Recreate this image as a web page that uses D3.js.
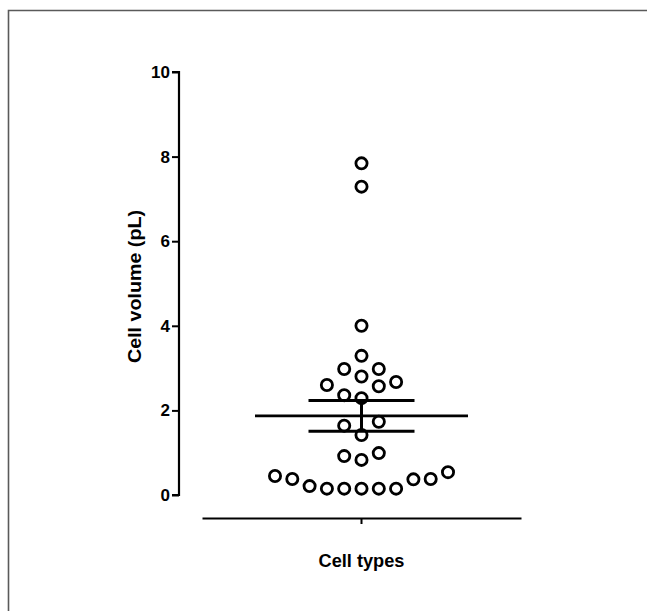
<!DOCTYPE html>
<html>
<head>
<meta charset="utf-8">
<script src="https://cdn.jsdelivr.net/npm/d3@7"></script>
<style>
    body { margin: 0; background: #fff; }
    svg text { font-family: "Liberation Sans", Arial, sans-serif; font-weight: bold; fill: #000; }
</style>
</head>
<body>
<div class="svg"></div>
<script>
// values (pL)
var categories = [""];
var cellVolumes = [
    7.84, 7.29, 4.00, 3.29, 2.98, 2.98, 2.80, 2.67, 2.60, 2.57, 2.36, 2.29,
    1.73, 1.64, 1.42, 0.99, 0.92, 0.83, 0.54, 0.45, 0.38, 0.38, 0.37, 0.21,
    0.15, 0.15, 0.15, 0.15, 0.15
];
var yTicks = [0, 2, 4, 6, 8, 10];
var yTitle = "Cell volume (pL)";
var xTitle = "Cell types";

var width, height, margin;
var x, y, svg;

var setupConfig = function () {
    width = 647;
    height = 611;
    margin = {left: 179, right: 126, top: 72, bottom: 116};
};

var setupD3 = function () {
    x = d3.scaleBand()
        .domain(categories)
        .range([202, 521]);
    y = d3.scaleLinear()
        .domain([0, 10])
        .range([height - margin.bottom, margin.top]);
};

var setupSVG = function () {
    svg = d3.select("div.svg")
        .append("svg")
        .attr("width", width)
        .attr("height", height);

    // frame (only top and left edges show)
    svg.append("path")
        .attr("d", "M8.5," + height + "V10.5H" + width)
        .style("fill", "none")
        .style("stroke", "#5a5a5a")
        .style("stroke-width", 1.6);
};

var drawAxes = function () {
    var yAxis = svg.append("g")
        .attr("transform", "translate(" + margin.left + ",0)")
        .attr("font-size", 17)
        .call(d3.axisLeft(y).tickValues(yTicks).tickSize(7).tickPadding(2));
    yAxis.select(".domain").style("stroke-width", 2.2).attr("d", "M-7," + y(10) + "H0V" + y(0) + "H-7");
    yAxis.selectAll(".tick line").style("stroke-width", 2);
    yAxis.selectAll(".tick text")
        .style("font-size", "17px")
        .style("font-family", "Liberation Sans, Arial, sans-serif")
        .style("font-weight", "bold");

    var xAxis = svg.append("g")
        .attr("transform", "translate(0,518)")
        .call(d3.axisBottom(x).tickSize(6).tickSizeOuter(0));
    xAxis.select(".domain").style("stroke-width", 2.2);
    xAxis.selectAll(".tick line").style("stroke-width", 2);

    svg.append("text")
        .attr("transform", "translate(141," + 286.5 + ") rotate(-90)")
        .attr("text-anchor", "middle")
        .attr("textLength", 153)
        .attr("lengthAdjust", "spacingAndGlyphs")
        .style("font-size", "18px")
        .text(yTitle);

    svg.append("text")
        .attr("x", x(categories[0]) + x.bandwidth() / 2)
        .attr("y", 567)
        .attr("text-anchor", "middle")
        .attr("textLength", 86)
        .attr("lengthAdjust", "spacingAndGlyphs")
        .style("font-size", "18px")
        .text(xTitle);
};

// simple column swarm: sorted ascending, each point goes to the nearest free column
var swarm = function (values, step, gap) {
    var order = [0];
    for (var k = 1; k < 12; k++) { order.push(-k); order.push(k); }
    var placed = [];
    values.slice().sort(d3.ascending).forEach(function (v) {
        var py = y(v);
        var col = order.find(function (c) {
            return !placed.some(function (p) {
                return p.col === c && Math.abs(p.py - py) < gap;
            });
        });
        placed.push({value: v, py: py, col: col});
    });
    var cx = x(categories[0]) + x.bandwidth() / 2;
    placed.forEach(function (p) { p.px = cx + p.col * step; });
    return placed;
};

var drawPoints = function () {
    var pts = swarm(cellVolumes, 17.3, 17);
    svg.selectAll("circle.pt")
        .data(pts)
        .enter()
        .append("circle")
        .attr("class", "pt")
        .attr("cx", function (d) { return d.px; })
        .attr("cy", function (d) { return d.py; })
        .attr("r", 5.6)
        .style("fill", "#fff")
        .style("stroke", "#000")
        .style("stroke-width", 2.8);
};

var drawMeanSem = function () {
    var cx = x(categories[0]) + x.bandwidth() / 2;
    var mean = d3.mean(cellVolumes);
    var sem = d3.deviation(cellVolumes) / Math.sqrt(cellVolumes.length);

    var g = svg.append("g").style("stroke", "#000");
    g.append("line")
        .attr("x1", cx).attr("x2", cx)
        .attr("y1", y(mean + sem)).attr("y2", y(mean - sem))
        .style("stroke-width", 3);
    g.append("line")
        .attr("x1", cx - 106.5).attr("x2", cx + 106.5)
        .attr("y1", y(mean)).attr("y2", y(mean))
        .style("stroke-width", 2.6);
    [mean + sem, mean - sem].forEach(function (v) {
        g.append("line")
            .attr("x1", cx - 53).attr("x2", cx + 53)
            .attr("y1", y(v)).attr("y2", y(v))
            .style("stroke-width", 3);
    });
};

setupConfig();
setupD3();
setupSVG();
drawAxes();
drawPoints();
drawMeanSem();
</script>
</body>
</html>
